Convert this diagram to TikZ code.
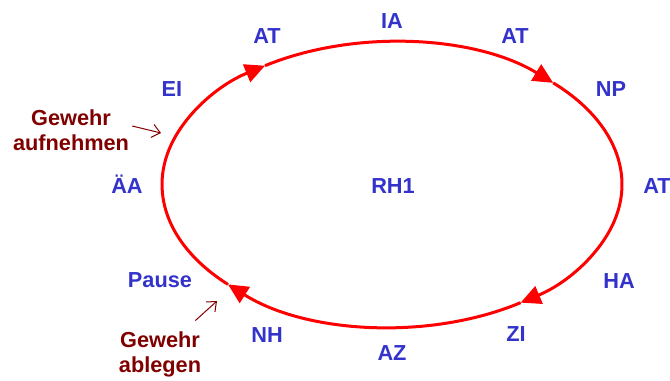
\documentclass[tikz,border=0pt]{standalone}
\usepackage{fontspec}
\setmainfont{Liberation Sans}
\usetikzlibrary{arrows.meta}
\definecolor{phaseblue}{RGB}{51,51,204}
\definecolor{gunred}{RGB}{128,0,0}

\begin{document}
\begin{tikzpicture}[x=0.75pt,y=0.75pt,yscale=-1,xscale=1,
  phase/.style={text=phaseblue,font=\bfseries\fontsize{16.3}{19}\selectfont,inner sep=0.75pt,anchor=base},
  note/.style={text=gunred,font=\bfseries\fontsize{16.3}{18.75}\selectfont,align=center,inner sep=0.75pt},
  ring/.style={draw={rgb,255:red,255;green,0;blue,0},line width=2.25pt,-{Triangle[length=15pt,width=14pt]}},
  grab/.style={draw=gunred,line width=0.75pt,-{Straight Barb[length=6pt,width=10pt]}}]
                  \useasboundingbox (0,0) rectangle (670,380); %set diagram size 670 x 380

                  \coordinate (hub) at (392,184.5);
                  \coordinate (aufnTip) at (161,133);
                  \coordinate (ablTip) at (217,301);

                  %Shape: Ellipse, four arcs clockwise
                  \draw[ring] (hub) ++(-224.5:230 and 142.5) arc[start angle=-224.5,end angle=-123.5,x radius=230,y radius=142.5];
                  \draw[ring] (hub) ++(-123.5:230 and 142.5) arc[start angle=-123.5,end angle=-45.5,x radius=230,y radius=142.5];
                  \draw[ring] (hub) ++(-45.5:230 and 142.5) arc[start angle=-45.5,end angle=56,x radius=230,y radius=142.5];
                  \draw[ring] (hub) ++(56:230 and 142.5) arc[start angle=56,end angle=135.5,x radius=230,y radius=142.5];

                  % Text Node
                  \node[phase] (rh) at (393,193) {RH1};
                  % Text Node
                  \node[phase] (ia) at (392,28) {IA};
                  % Text Node
                  \node[phase] (atA) at (267,43) {AT};
                  % Text Node
                  \node[phase] (atB) at (515,43) {AT};
                  % Text Node
                  \node[phase] (np) at (611,96) {NP};
                  % Text Node
                  \node[phase,anchor=base west] (atC) at (642,193) {AT};
                  % Text Node
                  \node[phase] (ha) at (619,288) {HA};
                  % Text Node
                  \node[phase] (zi) at (516,341) {ZI};
                  % Text Node
                  \node[phase] (az) at (392,360) {AZ};
                  % Text Node
                  \node[phase] (nh) at (267,342) {NH};
                  % Text Node
                  \node[phase] (pause) at (160,287) {Pause};
                  % Text Node
                  \node[phase] (aa) at (127,193) {ÄA};
                  % Text Node
                  \node[phase] (ei) at (172,96) {EI};

                  % Text Node
                  \node[note] (aufn) at (71,130) {Gewehr\\aufnehmen};
                  % Text Node
                  \node[note] (abl) at (160,354.5) {Gewehr\\ablegen};

                  %Straight Lines
                  \draw[grab] ([shift={(2,-4)}]aufn.east) -- (aufnTip);
                  %Straight Lines
                  \draw[grab] ([shift={(-7,-10)}]abl.north east) -- (ablTip);

              \end{tikzpicture}
\end{document}
